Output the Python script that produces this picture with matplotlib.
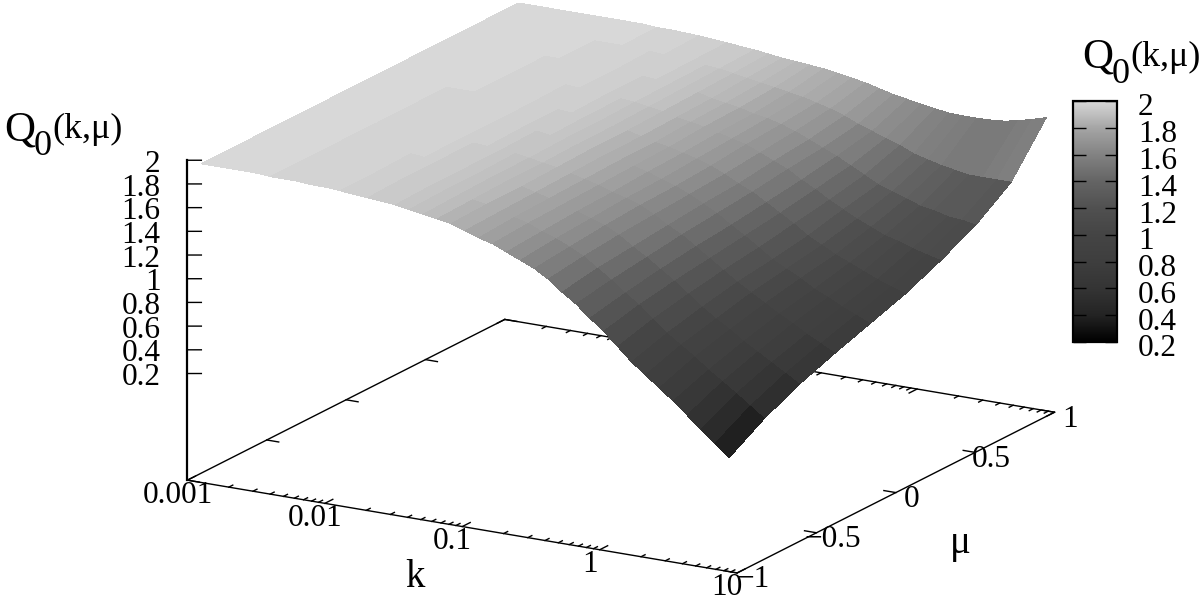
import matplotlib
matplotlib.use('Agg')
import matplotlib.pyplot as plt
import matplotlib.transforms as mtrans
from matplotlib.cm import ScalarMappable
from matplotlib.colors import LinearSegmentedColormap, Normalize
import numpy as np

plt.rcParams['font.family'] = ['Liberation Serif', 'DejaVu Serif']

# log10(k) nodes of the surface (39 of them) and mu nodes (10 of them)
log_k = np.linspace(-2.9, 0.94, 39)
mu = np.linspace(-1.0, 1.0, 10)

# Q0(k, mu): one row per k, one column per mu
q0 = np.array([
    [1.99, 1.99, 1.99, 1.99, 1.99, 1.99, 1.99, 1.99, 1.99, 1.99],
    [1.99, 1.99, 1.99, 1.99, 1.99, 1.99, 1.99, 1.99, 1.99, 1.99],
    [1.99, 1.99, 1.99, 1.99, 1.99, 1.99, 1.99, 1.99, 1.99, 1.99],
    [1.99, 1.99, 1.99, 1.99, 1.99, 1.99, 1.99, 1.99, 1.99, 1.99],
    [1.99, 1.99, 1.99, 1.99, 1.99, 1.99, 1.99, 1.99, 1.99, 1.99],
    [1.98, 1.98, 1.98, 1.98, 1.98, 1.98, 1.99, 1.99, 1.99, 1.99],
    [1.98, 1.98, 1.98, 1.98, 1.98, 1.98, 1.99, 1.99, 1.99, 1.99],
    [1.98, 1.98, 1.98, 1.98, 1.98, 1.98, 1.98, 1.98, 1.99, 1.99],
    [1.97, 1.97, 1.97, 1.98, 1.98, 1.98, 1.98, 1.98, 1.98, 1.99],
    [1.97, 1.97, 1.97, 1.97, 1.97, 1.98, 1.98, 1.98, 1.98, 1.99],
    [1.96, 1.96, 1.97, 1.97, 1.97, 1.97, 1.97, 1.98, 1.98, 1.98],
    [1.95, 1.95, 1.96, 1.96, 1.96, 1.96, 1.97, 1.97, 1.97, 1.98],
    [1.94, 1.95, 1.95, 1.95, 1.95, 1.96, 1.96, 1.96, 1.97, 1.975],
    [1.93, 1.94, 1.94, 1.94, 1.95, 1.95, 1.95, 1.96, 1.96, 1.97],
    [1.92, 1.93, 1.93, 1.93, 1.94, 1.94, 1.95, 1.95, 1.955, 1.96],
    [1.90, 1.91, 1.91, 1.92, 1.92, 1.93, 1.93, 1.94, 1.945, 1.95],
    [1.88, 1.89, 1.90, 1.90, 1.91, 1.91, 1.92, 1.925, 1.93, 1.94],
    [1.86, 1.87, 1.88, 1.88, 1.89, 1.89, 1.90, 1.91, 1.92, 1.93],
    [1.84, 1.85, 1.85, 1.86, 1.87, 1.87, 1.88, 1.89, 1.90, 1.915],
    [1.80, 1.81, 1.82, 1.83, 1.84, 1.84, 1.85, 1.86, 1.88, 1.90],
    [1.76, 1.78, 1.79, 1.80, 1.81, 1.81, 1.83, 1.84, 1.86, 1.89],
    [1.73, 1.75, 1.76, 1.77, 1.78, 1.79, 1.81, 1.82, 1.84, 1.88],
    [1.68, 1.70, 1.72, 1.73, 1.75, 1.76, 1.78, 1.79, 1.82, 1.87],
    [1.63, 1.66, 1.68, 1.70, 1.71, 1.73, 1.75, 1.77, 1.80, 1.85],
    [1.58, 1.61, 1.64, 1.66, 1.67, 1.69, 1.72, 1.74, 1.77, 1.83],
    [1.51, 1.55, 1.58, 1.60, 1.62, 1.64, 1.67, 1.70, 1.74, 1.81],
    [1.42, 1.47, 1.50, 1.53, 1.56, 1.58, 1.62, 1.65, 1.70, 1.78],
    [1.34, 1.39, 1.43, 1.47, 1.50, 1.53, 1.57, 1.60, 1.65, 1.75],
    [1.24, 1.30, 1.35, 1.39, 1.42, 1.46, 1.50, 1.55, 1.61, 1.73],
    [1.15, 1.22, 1.27, 1.31, 1.35, 1.39, 1.44, 1.49, 1.57, 1.71],
    [1.04, 1.12, 1.18, 1.23, 1.27, 1.32, 1.37, 1.43, 1.53, 1.69],
    [0.93, 1.02, 1.09, 1.15, 1.19, 1.24, 1.31, 1.37, 1.48, 1.675],
    [0.84, 0.94, 1.01, 1.08, 1.13, 1.18, 1.25, 1.33, 1.45, 1.67],
    [0.75, 0.86, 0.94, 1.01, 1.07, 1.12, 1.20, 1.29, 1.42, 1.67],
    [0.66, 0.77, 0.86, 0.94, 1.00, 1.07, 1.15, 1.25, 1.40, 1.675],
    [0.56, 0.69, 0.79, 0.88, 0.95, 1.02, 1.12, 1.23, 1.38, 1.685],
    [0.46, 0.61, 0.72, 0.81, 0.89, 0.97, 1.08, 1.20, 1.38, 1.71],
    [0.36, 0.525, 0.65, 0.75, 0.84, 0.93, 1.05, 1.19, 1.38, 1.74],
    [0.26, 0.44, 0.58, 0.69, 0.79, 0.89, 1.02, 1.17, 1.38, 1.775],
])

# grey level against Q0, as on the colour box
palette_q = [0.2, 0.4, 0.6, 0.8, 1.0, 1.2, 1.4, 1.6, 1.8, 2.0]
palette_grey = [0, 35, 52, 62, 68, 80, 100, 130, 165, 216]

z_ticks = [0.2, 0.4, 0.6, 0.8, 1.0, 1.2, 1.4, 1.6, 1.8, 2.0]
z_tick_labels = ['0.2', '0.4', '0.6', '0.8', '1', '1.2', '1.4', '1.6', '1.8', '2']
k_ticks = [-3, -2, -1, 0, 1]
k_tick_labels = ['0.001', '0.01', '0.1', '1', '10']
mu_ticks = [-1, -0.5, 0, 0.5, 1]
mu_tick_labels = ['\u22121', '\u22120.5', '0', '0.5', '1']

k_lo, k_hi = -3, 1
mu_lo, mu_hi = -1, 1
z_lo, z_hi = -0.70, 2.0

stops = [(q - 0.2) / 1.8 for q in palette_q]
greys = [(g / 255, g / 255, g / 255) for g in palette_grey]
# a short palette, the surface of the original shows the steps
cmap = LinearSegmentedColormap.from_list('q0grey', list(zip(stops, greys)), N=100)
norm = Normalize(0.2, 2.0)

W, H = 1202, 600
fig = plt.figure(figsize=(W / 100, H / 100), dpi=100)

# square 3d axes, much bigger than the figure height, placed in pixels
side = 930
ax = fig.add_axes([143.4 / W, -163.8 / H, side / W, side / H],
                  projection='3d', proj_type='ortho', computed_zorder=False)
ax.view_init(elev=17, azim=-60)
ax.set_box_aspect((1, 1, 0.527))
ax.set_xlim(k_lo, k_hi)
ax.set_ylim(mu_lo, mu_hi)
ax.set_zlim(z_lo, z_hi)
ax.set_axis_off()

K, M = np.meshgrid(log_k, mu, indexing='ij')
ax.plot_surface(K, M, q0, cmap=cmap, norm=norm, rstride=1, cstride=1,
                linewidth=0, antialiased=False, shade=False, zorder=3)

line = dict(color='black', lw=1.0, zorder=1)
ax.plot([k_lo, k_hi, k_hi, k_lo, k_lo], [mu_lo, mu_lo, mu_hi, mu_hi, mu_lo],
        [z_lo] * 5, **line)
ax.plot([k_lo, k_lo], [mu_lo, mu_lo], [z_lo, z_hi], color='black', lw=1.6, zorder=1)

# z ticks run flat on the screen
for z, lab in zip(z_ticks, z_tick_labels):
    ax.plot([k_lo, k_lo + 0.076], [mu_lo, mu_lo + 0.022], [z, z], **line)
    ax.text(k_lo - 0.147, mu_lo - 0.043, z - 0.034, lab, fontsize=22.5, ha='right', va='center')

# k ticks, both sides of the base
for t, lab in zip(k_ticks, k_tick_labels):
    ax.plot([t, t], [mu_lo, mu_lo + 0.05], [z_lo, z_lo], **line)
    ax.plot([t, t], [mu_hi, mu_hi - 0.05], [z_lo, z_lo], **line)
    ax.text(t + 0.108, mu_lo - 0.156, z_lo, lab, fontsize=22.5, ha='center', va='center')
for decade in k_ticks[:-1]:
    for m in range(2, 10):
        t = decade + np.log10(m)
        ax.plot([t, t], [mu_lo, mu_lo + 0.025], [z_lo, z_lo], **line)
        ax.plot([t, t], [mu_hi, mu_hi - 0.025], [z_lo, z_lo], **line)

# mu ticks, both sides of the base
for t, lab in zip(mu_ticks, mu_tick_labels):
    ax.plot([k_hi, k_hi - 0.087], [t, t], [z_lo, z_lo], **line)
    ax.plot([k_lo, k_lo + 0.087], [t, t], [z_lo, z_lo], **line)
    ax.text(k_hi + 0.162, t - 0.04, z_lo, lab, fontsize=22.5, ha='center', va='center')

ax.text(-0.712, -1.548, z_lo, 'k', fontsize=28, ha='center', va='center')
ax.text(1.904, -0.375, z_lo, '\u03bc', fontsize=28, ha='center', va='center')


def q_title(x, y):
    # Q, subscript 0 and (k,mu) sit on their own baselines, y counted from the top
    fig.text(x / W, 1 - y / H, 'Q', fontsize=31, ha='left', va='baseline')
    fig.text((x + 30) / W, 1 - (y + 15) / H, '0', fontsize=26, ha='left', va='baseline')
    fig.text((x + 48) / W, 1 - (y - 2) / H, '(k,\u03bc)', fontsize=26, ha='left', va='baseline')


q_title(4, 140)
q_title(1082, 68)

# colour box, on its own finer palette
bar_cmap = LinearSegmentedColormap.from_list('q0bar', list(zip(stops, greys)), N=512)
cax = fig.add_axes([1073 / W, 1 - 342 / H, 44 / W, 241 / H])
cbar = fig.colorbar(ScalarMappable(norm=norm, cmap=bar_cmap), cax=cax)
cbar.set_ticks(z_ticks, labels=z_tick_labels)
cbar.outline.set_linewidth(1.6)
cbar.ax.tick_params(which='both', direction='in', left=True, right=True, length=9,
                    width=1.0, pad=15, labelsize=22.5)
shift = mtrans.ScaledTranslation(0, -3.5 / 100, fig.dpi_scale_trans)
for tick_label in cbar.ax.get_yticklabels():
    tick_label.set_transform(tick_label.get_transform() + shift)

fig.savefig('out.png', dpi=100)
